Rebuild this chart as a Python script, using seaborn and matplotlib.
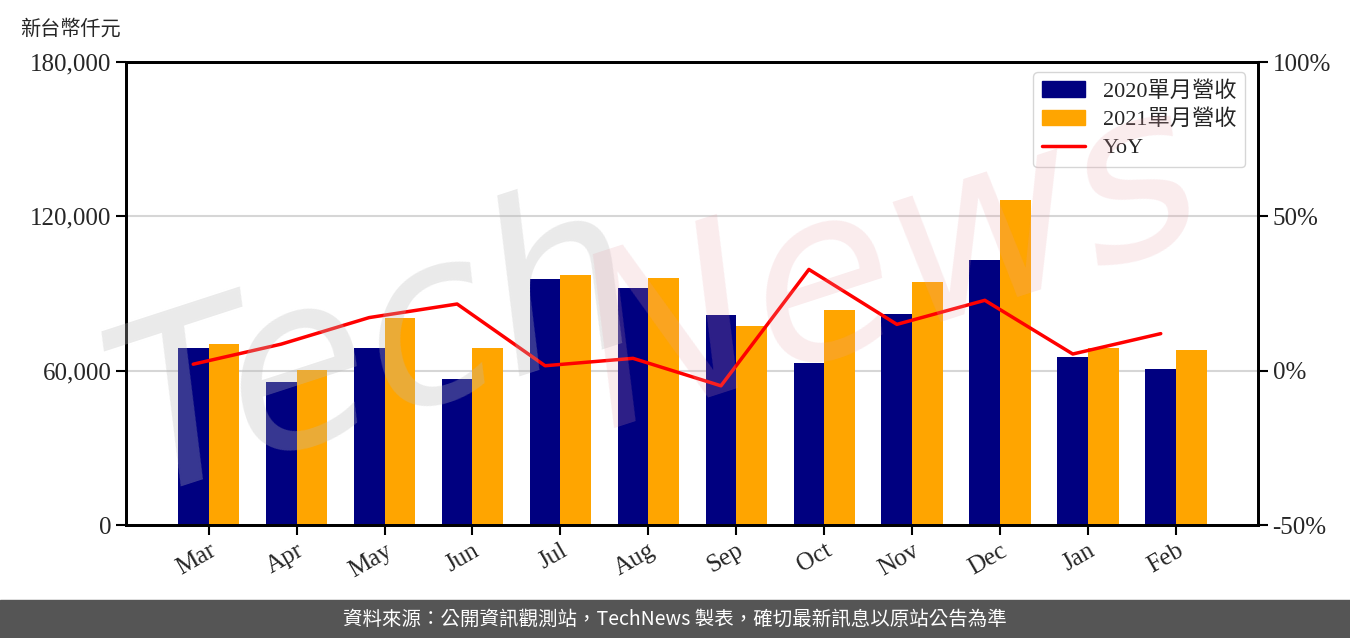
import numpy as np
import pandas as pd
import matplotlib
matplotlib.use("Agg")
import matplotlib.pyplot as plt
from matplotlib.patches import Patch, Rectangle
from matplotlib.lines import Line2D
import seaborn as sns

# ---- Data ----
months = ['Mar', 'Apr', 'May', 'Jun', 'Jul', 'Aug', 'Sep', 'Oct', 'Nov', 'Dec', 'Jan', 'Feb']
rev_2020 = [68800, 55600, 68800, 56800, 95700, 92200, 81700, 63000, 82000, 103000, 65300, 60700]
rev_2021 = [70400, 60300, 80500, 68800, 97200, 96000, 77400, 83600, 94500, 126400, 68800, 68000]
yoy = [2.1, 8.6, 17.2, 21.6, 1.6, 4.0, -4.9, 32.8, 15.0, 22.8, 5.4, 12.0]
series_names = ['2020單月營收', '2021單月營收']
left_ticks = [0, 60000, 120000, 180000]
right_ticks = [-50, 0, 50, 100]

serif = ['Liberation Serif', 'Noto Sans CJK TC']
cjk = ['Noto Sans CJK TC', 'DejaVu Sans']

sns.set_style('white')
plt.rcParams['font.family'] = serif

df = pd.DataFrame({
    'month': months * 2,
    'revenue': rev_2020 + rev_2021,
    'series': [series_names[0]] * len(months) + [series_names[1]] * len(months),
})

fig = plt.figure(figsize=(13.5, 6.38), dpi=100)
ax = fig.add_axes([0.0933, 0.1771, 0.8385, 0.7257])

colors = ['#000080', '#FFA500']
sns.barplot(data=df, x='month', y='revenue', hue='series', order=months,
            hue_order=series_names, palette=colors, width=0.7,
            saturation=1, linewidth=0, ax=ax, legend=False, zorder=2)

ax.set_xlim(-0.94, 11.93)
ax.set_ylim(0, 180000)
ax.set_yticks(left_ticks)
ax.set_yticklabels([f'{v:,}' for v in left_ticks], fontsize=18)
ax.set_xticks(range(len(months)))
ax.set_xticklabels(months, rotation=30, ha='right', fontsize=18,
                   rotation_mode='anchor')
ax.set_xlabel('')
ax.set_ylabel('')
ax.yaxis.grid(True, color='#d6d6d6', linewidth=1.5, zorder=0)
ax.set_axisbelow(True)
ax.tick_params(axis='both', direction='out', length=7, width=1.5, color='black',
               left=True, bottom=True)
for s in ax.spines.values():
    s.set_linewidth(2)
    s.set_color('black')

# YoY line on the right axis
ax2 = ax.twinx()
x_line = np.arange(len(months)) - 0.175
sns.lineplot(x=x_line, y=yoy, ax=ax2, color='#FF0000', linewidth=2.5, zorder=3)
ax2.set_ylim(-50, 100)
ax2.set_yticks(right_ticks)
ax2.set_yticklabels([f'{v}%' for v in right_ticks], fontsize=18)
ax2.tick_params(axis='y', direction='out', length=7, width=1.5, color='black', right=True)
ax2.set_xlim(-0.94, 11.93)
for s in ax2.spines.values():
    s.set_linewidth(2)
    s.set_color('black')

handles = [Patch(color=colors[0], label=series_names[0]),
           Patch(color=colors[1], label=series_names[1]),
           Line2D([0], [0], color='#FF0000', lw=2.5, label='YoY')]
leg = ax2.legend(handles=handles, loc='upper right', fontsize=16,
                 frameon=True, fancybox=True, edgecolor='#cccccc',
                 borderpad=0.4, handlelength=1.95, labelspacing=0.35,
                 borderaxespad=0, bbox_to_anchor=(0.989, 0.978))
for t in leg.get_texts():
    t.set_family(serif)

# watermark
fig.text(0.28, 0.45, 'Tech', fontsize=170, color='#bbbbbb', alpha=0.3,
         rotation=18, ha='center', va='center', style='italic',
         family='DejaVu Sans', zorder=10)
fig.text(0.66, 0.58, 'News', fontsize=170, color='#e8a0a8', alpha=0.2,
         rotation=18, ha='center', va='center', style='italic',
         family='DejaVu Sans', zorder=10)

# unit label
fig.text(0.015, 0.955, '新台幣仟元', fontsize=14.5, family=cjk, ha='left', va='center')

# footer band
fig.patches.append(Rectangle((0, 0), 1, 38 / 638, transform=fig.transFigure,
                             color='#555555', zorder=0))
fig.text(0.5, 19 / 638, '資料來源：公開資訊觀測站，TechNews 製表，確切最新訊息以原站公告為準',
         fontsize=14, color='white', family=cjk, ha='center', va='center')

fig.savefig('out.png', dpi=100)
